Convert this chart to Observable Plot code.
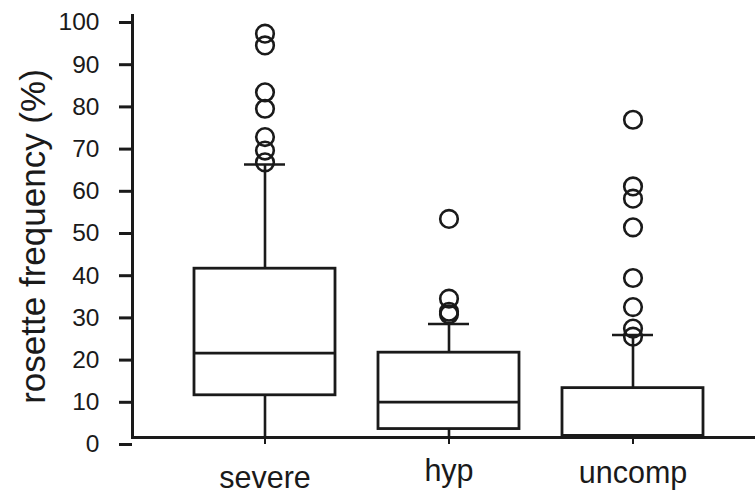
<!DOCTYPE html>
<html>
<head>
<meta charset="utf-8">
<script src="https://cdn.jsdelivr.net/npm/d3@7"></script>
<script src="https://cdn.jsdelivr.net/npm/@observablehq/plot@0.6"></script>
<style>
  html, body { margin: 0; padding: 0; background: #fff; }
  #chart svg { display: block; }
</style>
</head>
<body>
<div id="chart"></div>
<script>
const categories = ["severe", "hyp", "uncomp"];
const q1 = [10, 2, 0];
const median = [20, 8.4, 0.5];
const q3 = [40, 20.1, 11.7];
const whiskerLow = [0, 0, 0];
const whiskerHigh = [64.7, 26.9, 24.3];
const outliersSevere = [95.7, 92.9, 81.8, 77.9, 71.2, 68.0, 65.2];
const outliersHyp = [51.8, 32.9, 29.8, 29.2];
const outliersUncomp = [75.3, 59.5, 56.6, 49.8, 37.8, 30.9, 25.8, 23.9];
const yTicks = [0, 10, 20, 30, 40, 50, 60, 70, 80, 90, 100];
const yLabel = "rosette frequency (%)";

const boxes = categories.map((c, i) => ({
  cat: c, q1: q1[i], median: median[i], q3: q3[i], lo: whiskerLow[i], hi: whiskerHigh[i]
}));
const outlierLists = [outliersSevere, outliersHyp, outliersUncomp];
const outliers = categories.flatMap((c, i) => outlierLists[i].map(v => ({cat: c, v})));

const ink = "#1a1a1a";
// per-label vertical padding (labels in the source are centred on their own glyph boxes)
const xLabelPadding = {severe: 22.3, hyp: 15.3, uncomp: 17.3};

const chart = Plot.plot({
  width: 755,
  height: 493,
  marginLeft: 132,
  marginRight: 0,
  marginTop: 15,
  marginBottom: 56,
  style: {fontFamily: "'Liberation Sans', Arial, sans-serif", background: "#fff", color: ink},
  x: {domain: categories, range: [193.5, 703.5], padding: 0.236, paddingOuter: 0, label: null},
  y: {domain: [0, 100], label: null},
  marks: [
    Plot.frame({anchor: "left", stroke: ink, strokeWidth: 3}),
    Plot.ruleY([0], {stroke: ink, strokeWidth: 3}),
    Plot.ruleX(boxes, {x: "cat", y1: "q3", y2: "hi", stroke: ink, strokeWidth: 2.6}),
    Plot.ruleX(boxes, {x: "cat", y1: "lo", y2: "q1", stroke: ink, strokeWidth: 2.6}),
    Plot.tickY(boxes, {x: "cat", y: "hi", stroke: ink, strokeWidth: 2.6, insetLeft: 50, insetRight: 50}),
    Plot.barY(boxes, {x: "cat", y1: "q1", y2: "q3", fill: "#fff", stroke: ink, strokeWidth: 2.8}),
    Plot.tickY(boxes, {x: "cat", y: "median", stroke: ink, strokeWidth: 2.8}),
    Plot.dot(outliers, {x: "cat", y: "v", r: 8.8, stroke: ink, strokeWidth: 2.6, fill: "none"}),
    Plot.axisY({ticks: yTicks, tickFormat: d => String(d), tickSize: 13, tickPadding: 20, strokeWidth: 3, stroke: ink, fontSize: 24.5, dy: 7, label: null}),
    ...categories.map(c => Plot.axisX({ticks: [c], tickSize: 7, tickPadding: xLabelPadding[c], strokeWidth: 2, stroke: ink, fontSize: 30.5, label: null})),
    Plot.text([yLabel], {text: d => d, frameAnchor: "left", rotate: -90, dx: -99, dy: 10, fontSize: 35, fill: ink, textAnchor: "middle", lineAnchor: "middle"})
  ]
});
document.getElementById("chart").appendChild(chart);
</script>
</body>
</html>
